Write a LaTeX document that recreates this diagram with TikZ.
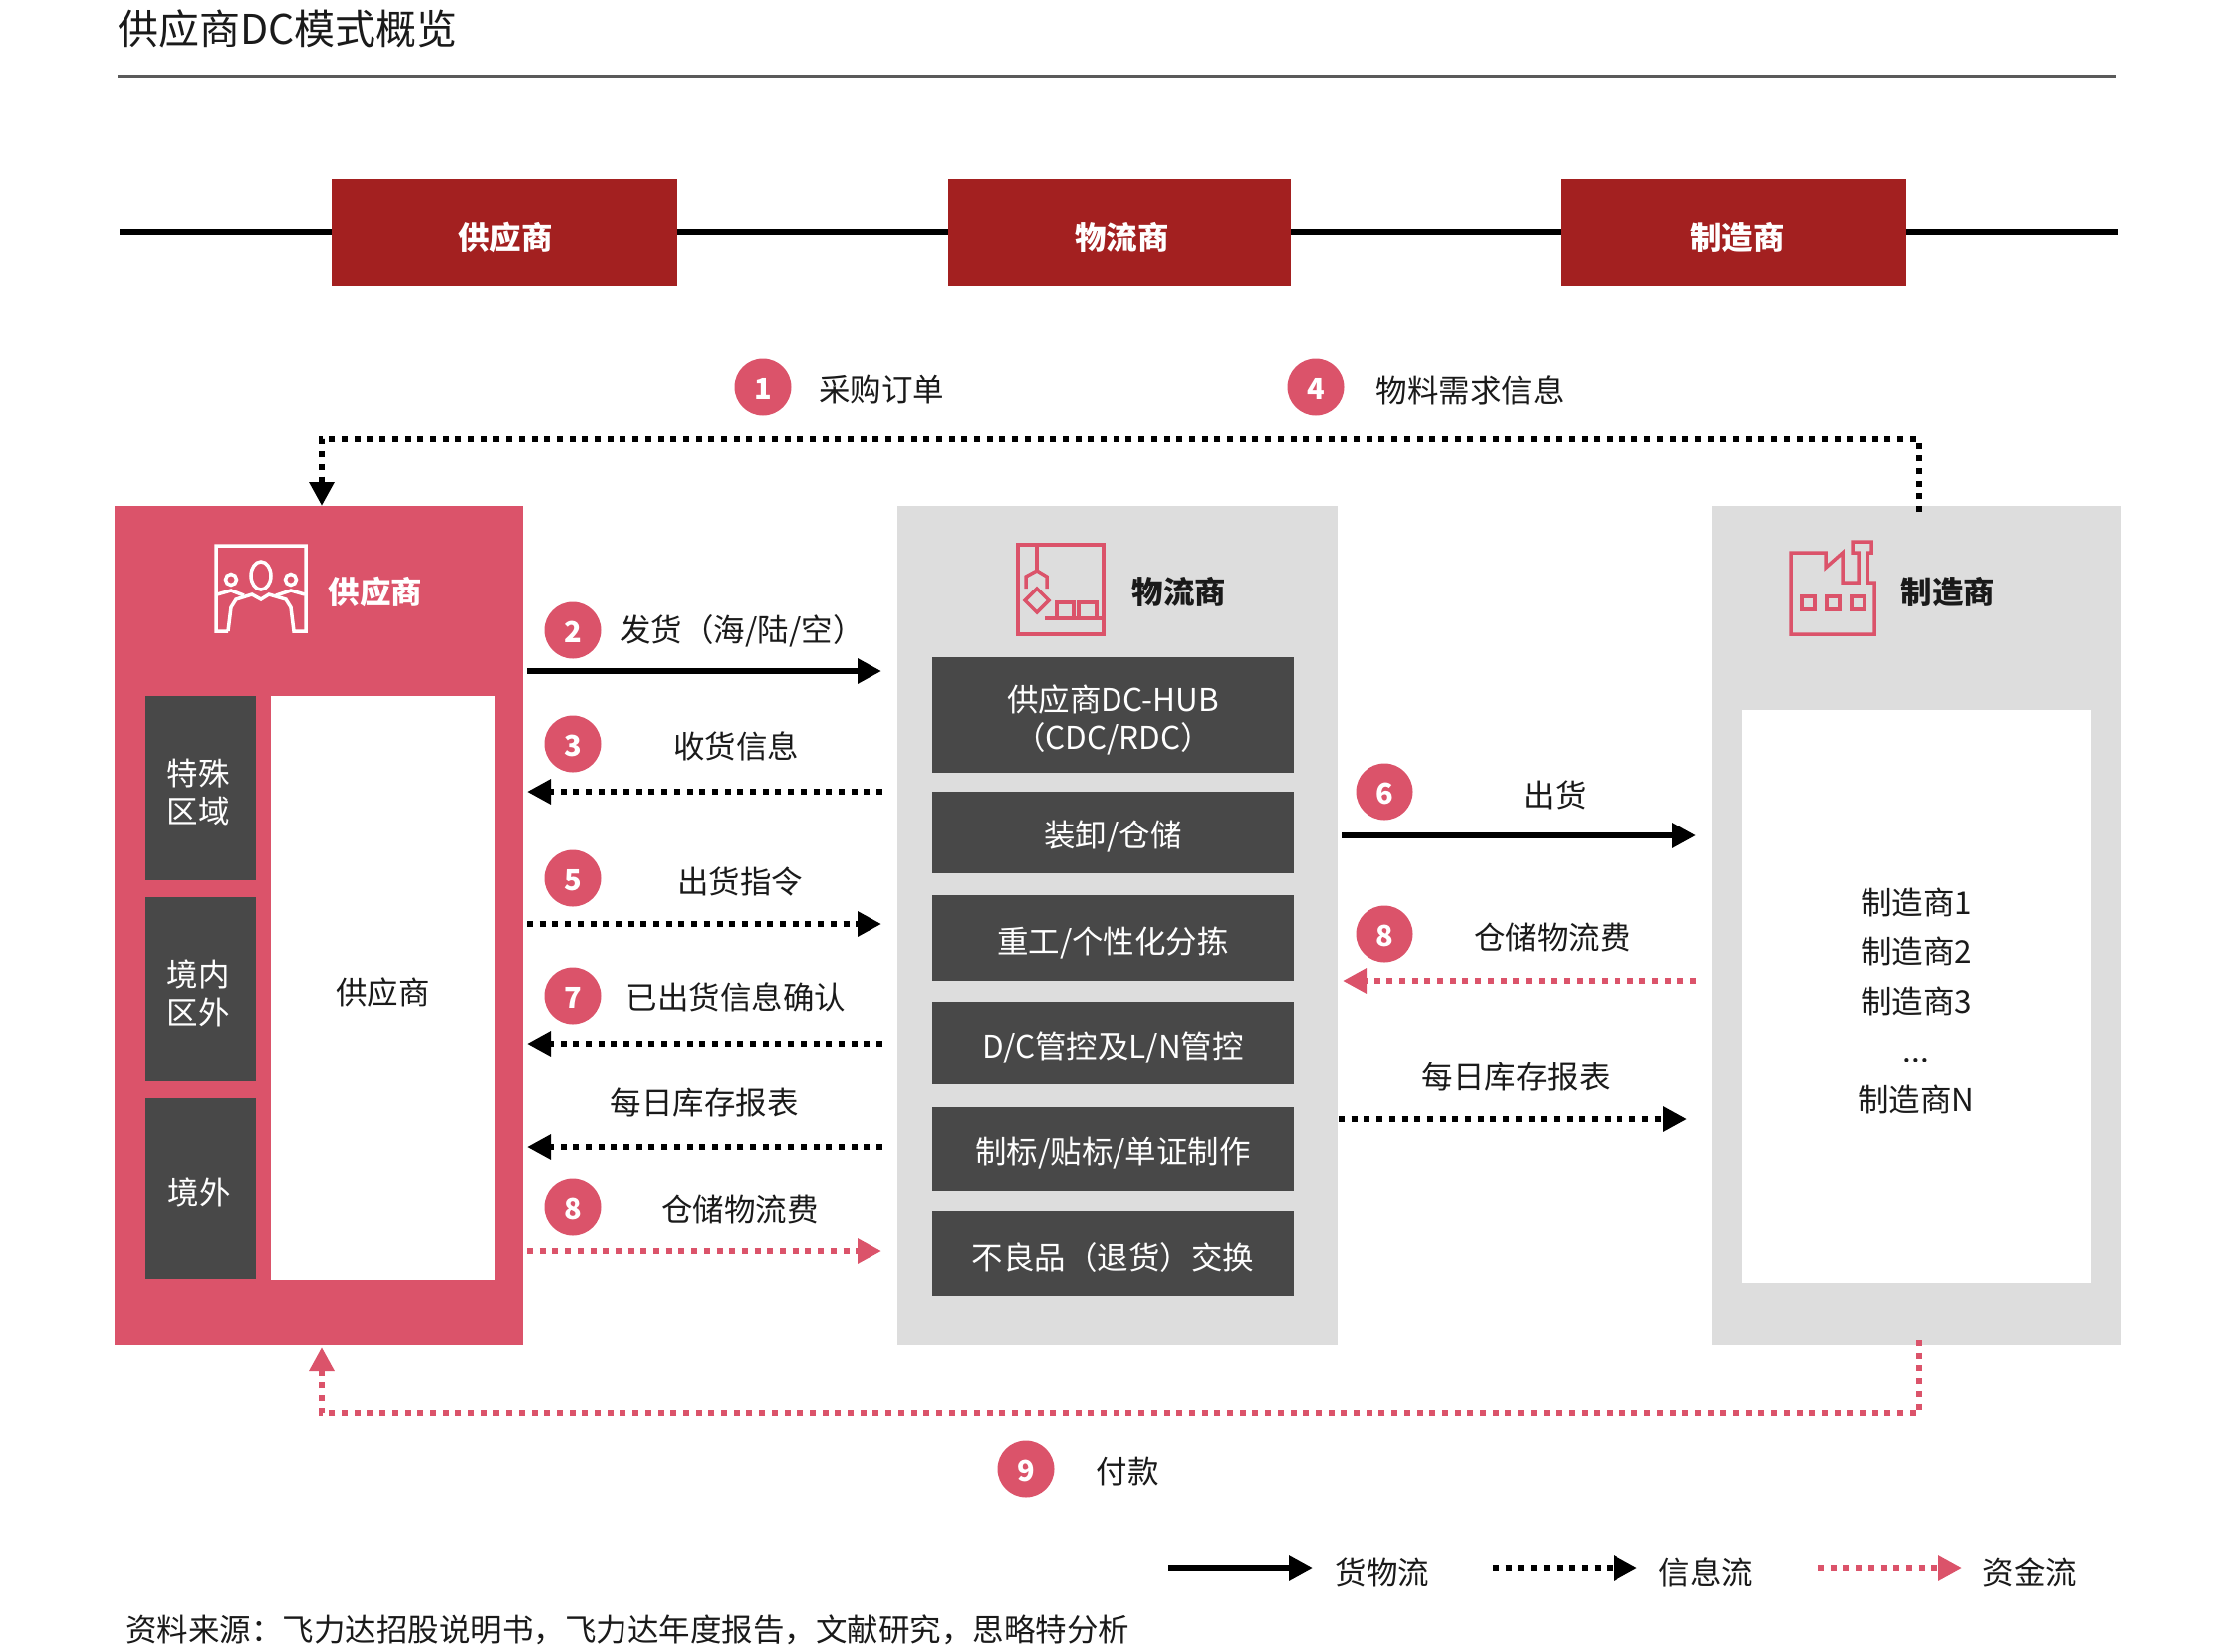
\documentclass[tikz,border=0pt]{standalone}
\usepackage{fontspec}
\setmainfont{Noto Sans CJK SC}
\usetikzlibrary{arrows.meta}
\definecolor{brickred}{HTML}{A32020}
\definecolor{rosered}{HTML}{DB536A}
\definecolor{darkbox}{HTML}{484848}
\definecolor{panelgray}{HTML}{DDDDDD}
\definecolor{inktext}{HTML}{1A1A1A}
\newcommand{\dn}[1]{\raisebox{-4.5pt}[\height][\depth]{#1}}
\newcommand{\dnb}[1]{\raisebox{-2pt}[\height][\depth]{#1}}
\tikzset{
  txt/.style={font=\fontsize{31.5}{38}\selectfont,text=inktext,inner sep=0pt,align=center},
  head/.style={txt,font=\fontsize{31.5}{38}\selectfont\bfseries},
  band/.style={fill=brickred,text=white,head,text=white,minimum height=107pt},
  panel/.style={inner sep=0pt,outer sep=0pt},
  darkcell/.style={txt,fill=darkbox,text=white},
  whitecell/.style={txt,fill=white},
  badge/.style={circle,fill=rosered,text=white,minimum size=57pt,inner sep=0pt,font=\fontsize{29}{30}\selectfont\bfseries},
  goods/.style={line width=6pt,-{Triangle[length=24pt,width=24pt]}},
  infoflow/.style={goods,line width=6.5pt,dash pattern=on 6pt off 6.7pt},
  moneyflow/.style={infoflow,draw=rosered,{-{Triangle[length=24pt,width=24pt,fill=rosered]}}},
  iconw/.style={draw=white,line width=3.5pt},
  iconr/.style={draw=rosered,line width=3.5pt}
}
\begin{document}
\begin{tikzpicture}[x=1pt,y=-1pt]
  \useasboundingbox (0,0) rectangle (2248,1658);

  % title
  \node[txt,font=\fontsize{41}{48}\selectfont,anchor=west] (title) at (118,29) {供应商DC模式概览};
  \coordinate (rulea) at (118,76);
  \coordinate (ruleb) at (2125,76);
  \draw[line width=3pt,draw=darkbox!90] (rulea) -- (ruleb);

  % top band
  \coordinate (linea) at (120,233);
  \coordinate (lineb) at (2127,233);
  \draw[line width=6.5pt] (linea) -- (lineb);
  \node[band,minimum width=347pt] (bandsup) at (506,233.5) {\hspace*{3pt}\dn{供应商}};
  \node[band,minimum width=344pt] (bandlog) at (1123.5,233.5) {\hspace*{6pt}\dn{物流商}};
  \node[band,minimum width=347pt] (bandmfr) at (1740.5,233.5) {\hspace*{8pt}\dn{制造商}};

  % panels
  \node[panel,fill=rosered,minimum width=410pt,minimum height=843pt] (pnlsup) at (320,929.5) {};
  \node[panel,fill=panelgray,minimum width=442pt,minimum height=843pt] (pnllog) at (1122,929.5) {};
  \node[panel,fill=panelgray,minimum width=411pt,minimum height=843pt] (pnlmfr) at (1924,929.5) {};

  \node[head,text=white] (hdsup) at (377,594) {供应商};
  \node[head] (hdlog) at (1184,594) {物流商};
  \node[head] (hdmfr) at (1956,594) {制造商};

  % supplier cells
  \node[darkcell,minimum width=111pt,minimum height=185pt] (cella) at (201.5,791) {\hspace*{-5pt}\dn{特殊}\\\hspace*{-5pt}\dn{区域}};
  \node[darkcell,minimum width=111pt,minimum height=185pt] (cellb) at (201.5,993) {\hspace*{-5pt}\dn{境内}\\\hspace*{-5pt}\dn{区外}};
  \node[darkcell,minimum width=111pt,minimum height=181pt] (cellc) at (201.5,1193) {\hspace*{-3pt}\dn{境外}};
  \node[whitecell,minimum width=225pt,minimum height=586pt] (cellw) at (384.5,991.5) {\dn{供应商}};

  % logistics cells
  \node[darkcell,minimum width=363pt,minimum height=116pt] (stepa) at (1117.5,718) {\dn{供应商DC-HUB}\\\dn{（CDC/RDC）}};
  \node[darkcell,minimum width=363pt,minimum height=82pt] (stepb) at (1117.5,836) {\dn{装卸/仓储}};
  \node[darkcell,minimum width=363pt,minimum height=86pt] (stepc) at (1117.5,942) {\dn{重工/个性化分拣}};
  \node[darkcell,minimum width=363pt,minimum height=83pt] (stepd) at (1117.5,1047.5) {\dn{D/C管控及L/N管控}};
  \node[darkcell,minimum width=363pt,minimum height=84pt] (stepe) at (1117.5,1154) {\dn{制标/贴标/单证制作}};
  \node[darkcell,minimum width=363pt,minimum height=85pt] (stepf) at (1117.5,1258.5) {\dn{不良品（退货）交换}};

  % manufacturer list
  \node[whitecell,font=\fontsize{31.5}{49.5}\selectfont,minimum width=350pt,minimum height=575pt] (mfrlist) at (1924,1000.5) {\dn{制造商1}\\\dn{制造商2}\\\dn{制造商3}\\\dn{...}\\\dn{制造商N}};

  % icons
  \draw[iconw] (229,634) -- (217,634) -- (217,548) -- (307,548) -- (307,634) -- (295,634) -- (292,610) -- (287,602) -- (270,597) -- (262,602) -- (253,597) -- (237,602) -- (232,610) -- (229,634);
  \draw[iconw] (262,578) ellipse (10 and 14);
  \draw[iconw] (232,582) circle (5.5);
  \draw[iconw] (292,582) circle (5.5);
  \draw[iconw] (218,597) -- (232,593) -- (245,598);
  \draw[iconw] (277,598) -- (292,593) -- (306,597);

  \draw[iconr] (1022,547) rectangle (1108,637);
  \draw[iconr] (1041,547) -- (1041,573);
  \draw[iconr] (1030,591) -- (1030,579) -- (1041,573) -- (1051,579) -- (1051,591);
  \draw[iconr] (1041,591) -- (1053,603) -- (1041,615) -- (1029,603) -- cycle;
  \draw[iconr] (1049,621) -- (1108,621);
  \draw[iconr] (1061,605) rectangle (1078,621);
  \draw[iconr] (1083,605) rectangle (1101,621);

  \draw[iconr] (1798,637) -- (1798,555) -- (1833,555) -- (1833,570) -- (1850,555) -- (1850,585) -- (1866,585) -- (1866,555) -- (1860,555) -- (1860,544) -- (1879,544) -- (1879,555) -- (1875,555) -- (1875,585) -- (1882,585) -- (1882,637) -- cycle;
  \draw[iconr] (1809,599) rectangle (1822,612);
  \draw[iconr] (1834,599) rectangle (1847,612);
  \draw[iconr] (1859,599) rectangle (1872,612);

  % badges and labels
  \node[badge] (noa) at (766,389) {\dnb{1}};
  \node[txt] (laba) at (885,392) {采购订单};
  \node[badge] (nod) at (1321,389) {\dnb{4}};
  \node[txt] (labd) at (1476,392) {物料需求信息};
  \node[badge] (nob) at (575,633) {\dnb{2}};
  \node[txt] (labb) at (745,634) {发货（海/陆/空）};
  \node[badge] (noc) at (575,747) {\dnb{3}};
  \node[txt] (labc) at (739,749) {收货信息};
  \node[badge] (noe) at (575,882) {\dnb{5}};
  \node[txt] (labe) at (743,886) {出货指令};
  \node[badge] (nog) at (575,1000) {\dnb{7}};
  \node[txt] (labg) at (739,1001) {已出货信息确认};
  \node[txt] (labr) at (707,1107) {每日库存报表};
  \node[badge] (noh) at (575,1212) {\dnb{8}};
  \node[txt] (labh) at (743,1214) {仓储物流费};
  \node[badge] (nof) at (1390,795) {\dnb{6}};
  \node[txt] (labf) at (1561,798) {出货};
  \node[badge] (noi) at (1390,938) {\dnb{8}};
  \node[txt] (labi) at (1559,941) {仓储物流费};
  \node[txt] (labs) at (1522,1081) {每日库存报表};
  \node[badge] (noj) at (1030,1475) {\dnb{9}};
  \node[txt] (labj) at (1132,1478) {付款};

  % connector ends
  \coordinate (sa) at (529,674);   \coordinate (la) at (885,674);
  \coordinate (sb) at (529,795);   \coordinate (lb) at (886,795);
  \coordinate (sc) at (529,928);   \coordinate (lc) at (885,928);
  \coordinate (sd) at (529,1048);  \coordinate (ld) at (886,1048);
  \coordinate (se) at (529,1152);  \coordinate (le) at (886,1152);
  \coordinate (sf) at (529,1256);  \coordinate (lf) at (885,1256);
  \coordinate (lg) at (1347,839);  \coordinate (mg) at (1703,839);
  \coordinate (lh) at (1348,985);  \coordinate (mh) at (1703,985);
  \coordinate (li) at (1344,1124); \coordinate (mi) at (1694,1124);

  \draw[goods] (sa) -- (la);
  \draw[infoflow] (lb) -- (sb);
  \draw[infoflow] (sc) -- (lc);
  \draw[infoflow] (ld) -- (sd);
  \draw[infoflow] (le) -- (se);
  \draw[moneyflow] (sf) -- (lf);
  \draw[goods] (lg) -- (mg);
  \draw[moneyflow] (mh) -- (lh);
  \draw[infoflow] (li) -- (mi);

  % long loops
  \coordinate (topa) at (1927,514);
  \coordinate (topm) at (1100,441);
  \coordinate (topb) at (323,508);
  \draw[infoflow] (topa) |- (topm) -| (topb);
  \coordinate (bota) at (1927,1346);
  \coordinate (botm) at (1100,1419);
  \coordinate (botb) at (323,1353);
  \draw[moneyflow] (bota) |- (botm) -| (botb);

  % legend
  \coordinate (kaa) at (1173,1575); \coordinate (kab) at (1318,1575);
  \coordinate (kba) at (1499,1575); \coordinate (kbb) at (1644,1575);
  \coordinate (kca) at (1825,1575); \coordinate (kcb) at (1970,1575);
  \draw[goods] (kaa) -- (kab);
  \draw[infoflow] (kba) -- (kbb);
  \draw[moneyflow] (kca) -- (kcb);
  \node[txt] (keya) at (1388,1579) {货物流};
  \node[txt] (keyb) at (1713,1579) {信息流};
  \node[txt] (keyc) at (2038,1579) {资金流};

  % source
  \node[txt,anchor=west] (source) at (126,1637) {资料来源：飞力达招股说明书，飞力达年度报告，文献研究，思略特分析};
\end{tikzpicture}
\end{document}
